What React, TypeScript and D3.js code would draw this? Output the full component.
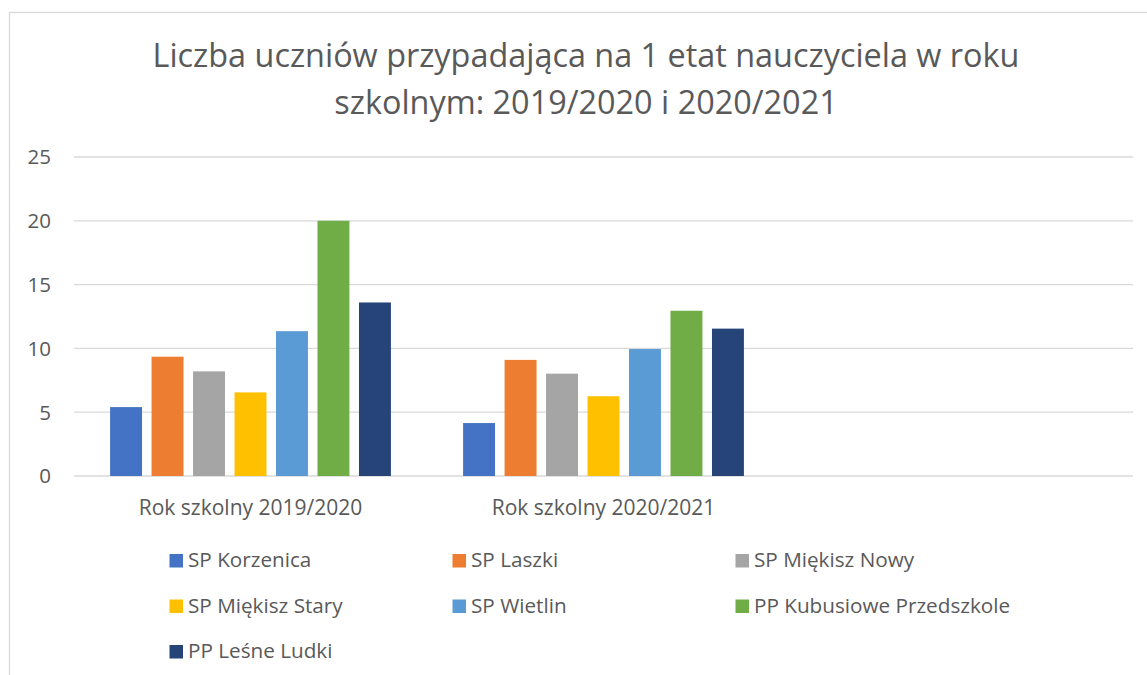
import React from "react";
import * as d3 from "d3";

const categories = ["Rok szkolny 2019/2020", "Rok szkolny 2020/2021", ""];
const seriesNames = [
  "SP Korzenica",
  "SP Laszki",
  "SP Miękisz Nowy",
  "SP Miękisz Stary",
  "SP Wietlin",
  "PP Kubusiowe Przedszkole",
  "PP Leśne Ludki",
];
const korzenica = [5.4, 4.15];
const laszki = [9.35, 9.1];
const miekiszNowy = [8.2, 8.02];
const miekiszStary = [6.55, 6.25];
const wietlin = [11.35, 9.95];
const kubusiowe = [20, 12.95];
const lesneLudki = [13.6, 11.55];
const seriesValues = [korzenica, laszki, miekiszNowy, miekiszStary, wietlin, kubusiowe, lesneLudki];
const yTicks = [0, 5, 10, 15, 20, 25];
const titleLines = [
  "Liczba uczniów przypadająca na 1 etat nauczyciela w roku",
  "szkolnym: 2019/2020 i 2020/2021",
];
const palette = ["#4472C4", "#ED7D31", "#A5A5A5", "#FFC000", "#5B9BD5", "#70AD47", "#264478"];

const W = 1147;
const H = 675;
const FONT = "'Open Sans', sans-serif";
const TEXT = "#595959";
const GRID = "#d9d9d9";

export default function App() {
  const x0 = d3.scaleBand<string>().domain(categories).range([74, 1133]).padding(0);
  const x1 = d3
    .scaleBand<string>()
    .domain(seriesNames)
    .range([0, x0.bandwidth()])
    .paddingInner(0.23)
    .paddingOuter(0.87);
  const y = d3.scaleLinear().domain([0, 25]).range([476, 157]);

  const titleCx = 586;
  const legendX0 = 169.5;
  const legendColW = 283;
  const legendY0 = 554;
  const legendRowH = 45.5;

  return (
    <div style={{ position: "absolute", left: 0, top: 0 }}>
      <svg width={W} height={H} style={{ display: "block", background: "#fff" }}>
        <rect x={0} y={0} width={W} height={H} fill="#fff" />
        <rect x={9.5} y={12.5} width={1160} height={700} fill="none" stroke={GRID} strokeWidth={1.3} />
        {titleLines.map((t, i) => (
          <text
            key={i}
            x={titleCx}
            y={66.5 + i * 47}
            textAnchor="middle"
            fontFamily={FONT}
            fontSize={32.4}
            fill={TEXT}
          >
            {t}
          </text>
        ))}
        {yTicks.map((t) => (
          <line
            key={t}
            x1={74}
            x2={1133}
            y1={y(t)}
            y2={y(t)}
            stroke={GRID}
            strokeWidth={1.3}
          />
        ))}
        {yTicks.map((t) => (
          <text
            key={"l" + t}
            x={51}
            y={y(t) + 7.3}
            textAnchor="end"
            fontFamily={FONT}
            fontSize={20.5}
            fill={TEXT}
          >
            {t}
          </text>
        ))}
        {seriesNames.map((s, si) =>
          seriesValues[si].map((v, ci) => (
            <rect
              key={s + ci}
              x={(x0(categories[ci]) as number) + (x1(s) as number)}
              y={y(v)}
              width={x1.bandwidth()}
              height={y(0) - y(v)}
              fill={palette[si]}
            />
          ))
        )}
        {categories.map((c) => (
          <text
            key={"c" + c}
            x={(x0(c) as number) + x0.bandwidth() / 2}
            y={514.5}
            textAnchor="middle"
            fontFamily={FONT}
            fontSize={21}
            fill={TEXT}
          >
            {c}
          </text>
        ))}
        {seriesNames.map((s, i) => {
          const col = i % 3;
          const row = Math.floor(i / 3);
          const lx = legendX0 + col * legendColW;
          const ly = legendY0 + row * legendRowH;
          return (
            <g key={"lg" + s}>
              <rect x={lx} y={ly} width={13.5} height={13.5} fill={palette[i]} />
              <text x={lx + 18.5} y={ly + 13} fontFamily={FONT} fontSize={20.7} fill={TEXT}>
                {s}
              </text>
            </g>
          );
        })}
      </svg>
    </div>
  );
}
